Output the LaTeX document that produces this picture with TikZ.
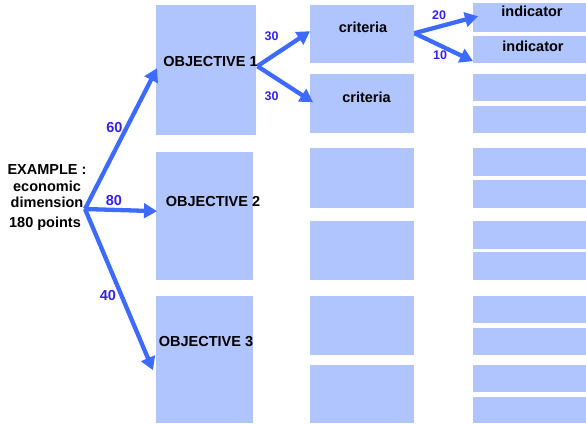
\documentclass[tikz,border=0pt]{standalone}
\usepackage{fontspec}
\setmainfont{Liberation Sans}
\usetikzlibrary{arrows.meta,calc}

\definecolor{boxblue}{HTML}{B0C4FE}
\definecolor{arrowblue}{HTML}{3D6BFF}
\definecolor{numblue}{HTML}{3322EE}

\tikzset{
  cell/.style={fill=boxblue, inner sep=0pt, anchor=north west},
  word/.style={font=\fontsize{14.5}{16}\selectfont\bfseries, inner sep=0pt},
  weight/.style={font=\fontsize{12.5}{14}\selectfont\bfseries, text=numblue, inner sep=0pt},
  link/.style={draw=arrowblue, line width=4.3pt, -{Triangle[length=13pt,width=14.5pt]}}
}

\begin{document}
\begin{tikzpicture}[x=1pt,y=-1pt]
  \useasboundingbox (0,0) rectangle (586,423);

  % objectives
  \node[cell, minimum width=100pt, minimum height=130pt] (obj1) at (156,5) {};
  \node[cell, minimum width=97pt, minimum height=128pt]  (obj2) at (156,152) {};
  \node[cell, minimum width=97pt, minimum height=127pt]  (obj3) at (156,296) {};

  % criteria
  \foreach \n/\y/\h in {1/5/58, 2/74/59, 3/148/60, 4/221/59, 5/296/59, 6/365/58}
    \node[cell, minimum width=104pt, minimum height=\h pt] (crit\n) at (310,\y) {};

  % indicators
  \foreach \n/\y/\h in {1/3/29, 2/36/27, 3/74/27, 4/106/27, 5/148/28, 6/180/28,
                        7/221/28, 8/252/28, 9/296/27, 10/328/27, 11/365/27, 12/397/26}
    \node[cell, minimum width=113pt, minimum height=\h pt] (ind\n) at (473,\y) {};

  % texts
  \node[word] (ex1) at (47,170) {EXAMPLE :};
  \node[word] (ex2) at (47,186) {economic};
  \node[word] (ex3) at (47,202) {dimension};
  \node[word] (ex4) at (45,224) {180 points};
  \node[word] at (210.5,62) {OBJECTIVE 1};
  \node[word] at (213,202)  {OBJECTIVE 2};
  \node[word] at (206,342)  {OBJECTIVE 3};
  \node[word] at (363,27)   {criteria};
  \node[word] at (366.5,97.5) {criteria};
  \node[word] at (532,11)   {indicator};
  \node[word] at (533,46)   {indicator};

  % arrows
  \coordinate (src) at (85,209);
  \draw[link] (src) -- ($(obj1.west)+(1,-2)$);
  \draw[link] (src) -- ($(obj2.west)+(1,-5)$);
  \draw[link] (src) -- ($(obj3.west)+(-3,10.5)$);
  \draw[link] ($(obj1.east)+(1,-4)$) -- ($(crit1.west)+(0,-3)$);
  \draw[link] ($(obj1.east)+(1,-4)$) -- ($(crit2.west)+(3,-1.5)$);
  \draw[link] ($(crit1.east)+(0,-1)$) -- ($(ind1.west)+(5,-1.5)$);
  \draw[link] ($(crit1.east)+(0,-1)$) -- ($(ind2.west)+(0,11.5)$);

  % weights
  \node[weight, font=\fontsize{14.5}{16}\selectfont\bfseries] at (114.5,128) {60};
  \node[weight, font=\fontsize{14.5}{16}\selectfont\bfseries] at (114,201)   {80};
  \node[weight, font=\fontsize{14.5}{16}\selectfont\bfseries] at (108,296)   {40};
  \node[weight] at (271.5,36) {30};
  \node[weight] at (271.5,96) {30};
  \node[weight] at (439,15)   {20};
  \node[weight] at (440,55)   {10};
\end{tikzpicture}
\end{document}
